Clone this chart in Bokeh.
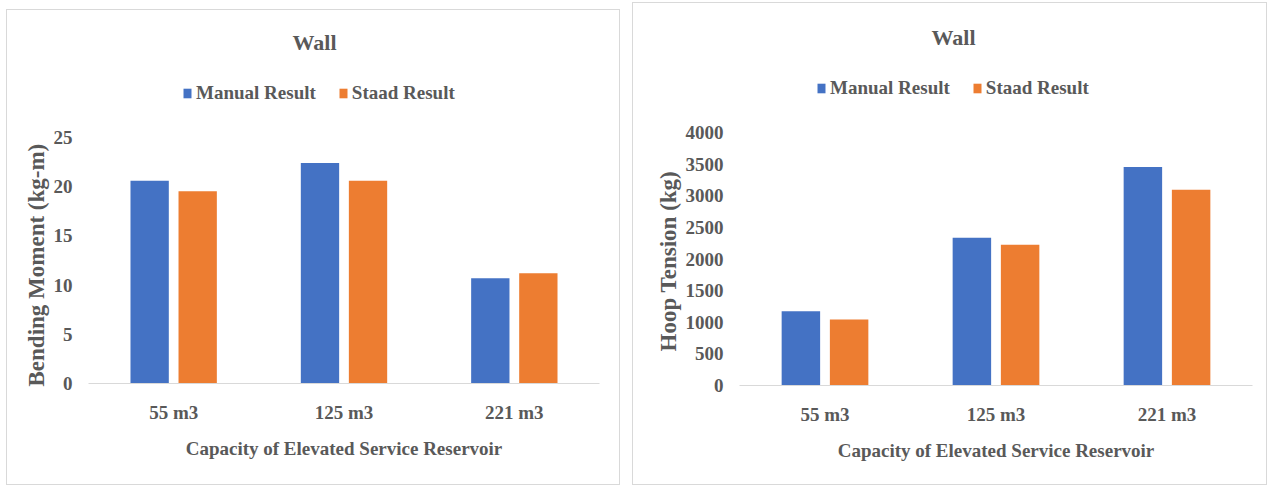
from bokeh.plotting import figure
from bokeh.models import (ColumnDataSource, FactorRange, Range1d, FixedTicker,
                          Legend, LegendItem, Label, Title, Spacer)
from bokeh.layouts import row, column
from bokeh.transform import dodge
from bokeh.embed import file_html
from bokeh.resources import INLINE

# ---------------- data ----------------
capacities = ["55 m3", "125 m3", "221 m3"]
series_names = ["Manual Result", "Staad Result"]

bm_manual = [20.6, 22.4, 10.7]
bm_staad = [19.55, 20.6, 11.2]
bm_ticks = [0, 5, 10, 15, 20, 25]

ht_manual = [1175, 2335, 3455]
ht_staad = [1045, 2225, 3095]
ht_ticks = [0, 500, 1000, 1500, 2000, 2500, 3000, 3500, 4000]

chart_title = "Wall"
x_title = "Capacity of Elevated Service Reservoir"
bm_y_title = "Bending Moment (kg-m)"
ht_y_title = "Hoop Tension (kg)"

# ---------------- style ----------------
FONT = "Liberation Serif"
TXT = "#595959"
BLUE = "#4472C4"
ORANGE = "#ED7D31"


def make_chart(manual, staad, ticks, ytitle, width, height, frame_box,
               legend_loc, title_xy_px, ytitle_offset):
    # frame_box: (left, right, top_of_axis_max, bottom) in figure pixels
    left, right, axis_top, bottom = frame_box
    frame_top = 8
    # extend the plotting range above the axis maximum so that the title and
    # legend sit inside the frame (the axis itself stays bounded to the ticks)
    px_per_unit = (bottom - axis_top) / (ticks[-1] - ticks[0])
    y_end = ticks[0] + (bottom - frame_top) / px_per_unit

    src = ColumnDataSource(dict(cat=capacities, manual=manual, staad=staad))
    p = figure(x_range=FactorRange(*capacities, range_padding=0),
               y_range=Range1d(ticks[0], y_end),
               width=width, height=height, output_backend="svg",
               toolbar_location=None, tools="", title=None,
               min_border_left=left, min_border_right=width - right,
               min_border_top=frame_top, min_border_bottom=height - bottom)
    p.styles = {"box-shadow": "0 0 0 1px #d9d9d9"}
    p.outline_line_color = None
    p.xgrid.grid_line_color = None
    p.ygrid.grid_line_color = None
    p.background_fill_color = "white"
    p.border_fill_color = "white"

    r1 = p.vbar(x=dodge("cat", -0.141, range=p.x_range), top="manual",
                width=0.225, source=src, fill_color=BLUE, line_color=None)
    r2 = p.vbar(x=dodge("cat", 0.141, range=p.x_range), top="staad",
                width=0.225, source=src, fill_color=ORANGE, line_color=None)

    # x axis
    xa = p.xaxis[0]
    xa.axis_line_color = "#d9d9d9"
    xa.axis_line_width = 1
    xa.major_tick_line_color = None
    xa.minor_tick_line_color = None
    xa.major_label_text_font = FONT
    xa.major_label_text_font_style = "bold"
    xa.major_label_text_font_size = "19px"
    xa.major_label_text_color = TXT
    xa.major_label_standoff = 12
    xa.axis_label = x_title
    xa.axis_label_text_font = FONT
    xa.axis_label_text_font_style = "bold"
    xa.axis_label_text_font_size = "19px"
    xa.axis_label_text_color = TXT
    xa.axis_label_standoff = 12

    # y axis
    ya = p.yaxis[0]
    ya.ticker = FixedTicker(ticks=ticks)
    ya.bounds = (ticks[0], ticks[-1])
    ya.axis_line_color = None
    ya.major_tick_line_color = None
    ya.minor_tick_line_color = None
    ya.major_label_text_font = FONT
    ya.major_label_text_font_style = "bold"
    ya.major_label_text_font_size = "19px"
    ya.major_label_text_color = TXT
    ya.major_label_standoff = 10

    # y axis title, placed along the bounded part of the axis
    p.add_layout(Title(text=ytitle, text_font=FONT, text_font_style="bold",
                       text_font_size="23px", text_color=TXT, align="left",
                       offset=ytitle_offset, standoff=3), "left")

    legend = Legend(items=[LegendItem(label=series_names[0], renderers=[r1]),
                           LegendItem(label=series_names[1], renderers=[r2])],
                    location=legend_loc, orientation="horizontal",
                    label_text_font=FONT, label_text_font_style="bold",
                    label_text_font_size="19px", label_text_color=TXT,
                    glyph_width=10, glyph_height=12, label_standoff=4,
                    spacing=22, padding=0, margin=0,
                    border_line_color=None, background_fill_alpha=0)
    p.add_layout(legend, "center")

    # title position given in figure pixels, converted to data coordinates
    tx, ty = title_xy_px
    n = len(capacities)
    title_x = (tx - left) / ((right - left) / n)
    title_y = ticks[0] + (bottom - ty) / px_per_unit
    p.add_layout(Label(x=title_x, y=title_y, text=chart_title,
                       text_font=FONT, text_font_style="bold",
                       text_font_size="22px", text_color=TXT,
                       text_align="center", text_baseline="middle"))
    return p


p1 = make_chart(bm_manual, bm_staad, bm_ticks, bm_y_title, 612, 474,
                (81, 592, 127, 373), (94, 279), (307, 32), -3)
p2 = make_chart(ht_manual, ht_staad, ht_ticks, ht_y_title, 633, 481,
                (106, 619, 129, 382), (77, 286), (320, 34), 34)

layout = row(Spacer(width=7), column(Spacer(height=10), p1),
             Spacer(width=14), column(Spacer(height=3), p2))

with open("out.html", "w") as f:
    f.write(file_html(layout, INLINE))
